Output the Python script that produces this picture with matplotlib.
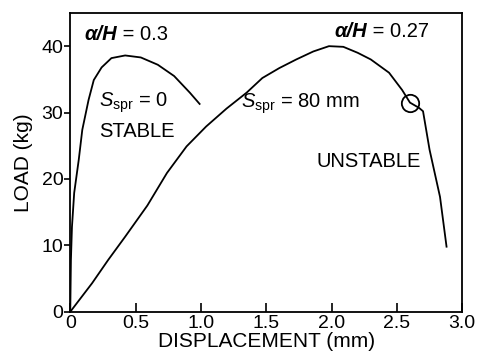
import matplotlib
matplotlib.use("Agg")
import matplotlib.pyplot as plt

plt.rcParams["font.family"] = ["Liberation Sans", "DejaVu Sans"]
plt.rcParams["mathtext.fontset"] = "custom"
plt.rcParams["mathtext.rm"] = "Liberation Sans"
plt.rcParams["mathtext.it"] = "Liberation Sans:italic"
plt.rcParams["mathtext.bf"] = "Liberation Sans:bold"

# stable curve, S_spr = 0, a/H = 0.3
stable_x = [0.0, 0.005, 0.013, 0.03, 0.065, 0.092, 0.14, 0.18, 0.24, 0.315,
            0.42, 0.54, 0.67, 0.795, 0.915, 0.99]
stable_y = [0.0, 7.8, 12.8, 17.9, 22.9, 27.4, 31.9, 34.9, 36.8, 38.2,
            38.6, 38.3, 37.2, 35.5, 33.0, 31.3]

# unstable curve, S_spr = 80 mm, a/H = 0.27
unstable_x = [0.0, 0.167, 0.29, 0.42, 0.59, 0.74, 0.89, 1.04, 1.196, 1.35,
              1.47, 1.60, 1.73, 1.86, 1.98, 2.09, 2.20, 2.30, 2.44, 2.54,
              2.60, 2.67, 2.70, 2.75, 2.83, 2.88]
unstable_y = [0.0, 4.3, 7.8, 11.3, 16.0, 20.9, 24.9, 27.9, 30.6, 33.0,
              35.2, 36.7, 38.0, 39.2, 40.0, 39.9, 39.0, 38.0, 36.0, 33.4,
              31.5, 30.7, 30.2, 24.4, 17.3, 9.8]

# point of instability
circle_x = [2.60]
circle_y = [31.5]

xticks = [0, 0.5, 1.0, 1.5, 2.0, 2.5, 3.0]
xtick_labels = ["0", "0.5", "1.0", "1.5", "2.0", "2.5", "3.0"]
yticks = [0, 10, 20, 30, 40]

fig = plt.figure(figsize=(4.78, 3.6), dpi=100)
ax = fig.add_axes([0.147, 0.134, 0.820, 0.830])
for s in ax.spines.values():
    s.set_linewidth(1.3)

ax.plot(stable_x, stable_y, color="black", lw=1.3)
ax.plot(unstable_x, unstable_y, color="black", lw=1.3)
ax.plot(circle_x, circle_y, "o", mfc="none", mec="black", ms=12.5, mew=1.3)

ax.set_xlim(0, 3.0)
ax.set_ylim(0, 45)
ax.set_xticks(xticks)
ax.set_xticklabels(xtick_labels)
ax.set_yticks(yticks)
ax.tick_params(axis="x", direction="in", length=6.5, width=1.2, labelsize=14, pad=2)
ax.tick_params(axis="y", direction="out", length=4, width=1.2, labelsize=14, pad=1)
ax.set_xlabel("DISPLACEMENT (mm)", fontsize=15, labelpad=0)
ax.set_ylabel("LOAD (kg)", fontsize=15, labelpad=6)

fs = 14.5
t1 = ax.text(0.105, 41.0, "α/H", fontsize=fs, fontweight="bold", fontstyle="italic",
             va="baseline")
ax.annotate(" = 0.3", xy=(1, 0), xycoords=t1, va="bottom", fontsize=fs)
t2 = ax.text(2.02, 41.4, "α/H", fontsize=fs, fontweight="bold", fontstyle="italic",
             va="baseline")
ax.annotate(" = 0.27", xy=(1, 0), xycoords=t2, va="bottom", fontsize=fs)

ax.text(0.22, 30.9, r"$S_{\rm spr}$ = 0", fontsize=fs, va="baseline")
ax.text(0.22, 26.3, "STABLE", fontsize=fs, va="baseline")
ax.text(1.31, 30.7, r"$S_{\rm spr}$ = 80 mm", fontsize=fs, va="baseline")
ax.text(1.885, 21.8, "UNSTABLE", fontsize=fs, va="baseline")

fig.savefig("out.png", dpi=100)
